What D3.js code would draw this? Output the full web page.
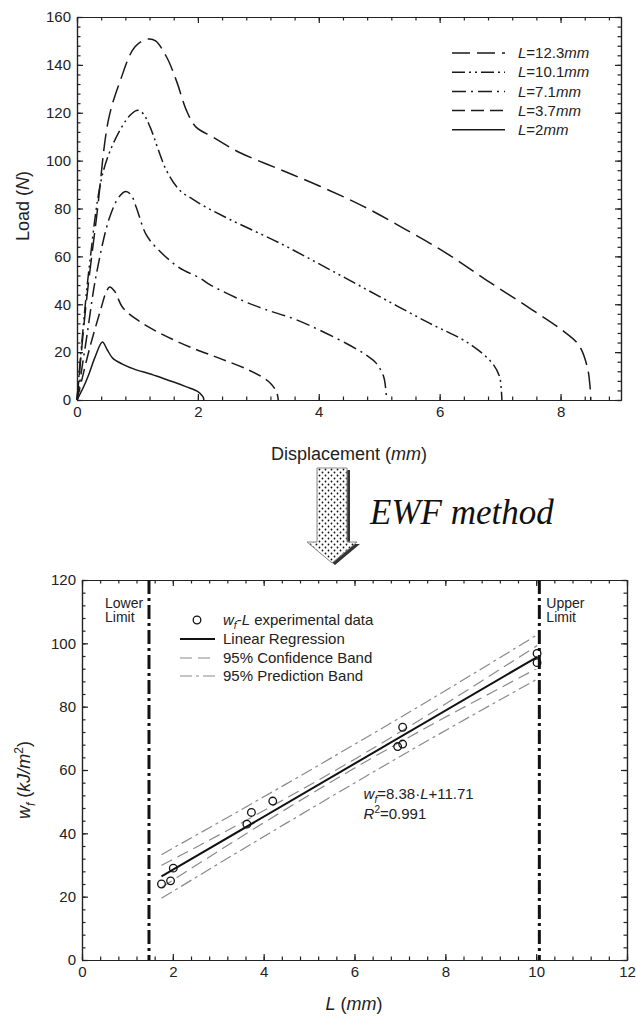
<!DOCTYPE html>
<html>
<head>
<meta charset="utf-8">
<script src="https://cdn.jsdelivr.net/npm/d3@7"></script>
<style>
  body { margin: 0; background: #fff; }
  svg text { font-family: "Liberation Sans", Arial, sans-serif; fill: #222; }
  .ax path, .ax line { stroke: #222; stroke-width: 1.2; }
  .ax text { font-size: 15px; }
</style>
</head>
<body>
<svg id="fig" width="636" height="1019"></svg>
<script>
// ---------- top chart: load vs displacement ----------
const ligaments = ['12.3', '10.1', '7.1', '3.7', '2'];
const load12_3 = [[0,0],[0.15,40],[0.33,77.7],[0.52,117],[0.71,133],[0.96,147.6],[1.18,150.8],[1.3,150],[1.48,143.4],[1.65,133],[1.81,121],[1.97,114],[2.25,109.8],[2.69,103.4],[3.35,96.4],[4.01,89.4],[4.73,81],[5.44,71.2],[6.1,61.5],[6.76,50.3],[7.53,37.7],[8.02,29.3],[8.3,23],[8.44,14],[8.49,5],[8.5,0]];
const load10_1 = [[0,0],[0.2,55],[0.44,96],[0.71,112.7],[0.9,119.5],[1.01,121],[1.1,119.5],[1.21,114],[1.48,95.9],[1.7,87.6],[1.92,83.8],[2.08,81.3],[2.53,75.4],[3.35,65.6],[4.18,54.5],[5.0,43.3],[5.83,32.1],[6.48,23.7],[6.87,15.4],[6.99,9.8],[7.02,4],[7.03,0]];
const load7_1 = [[0,0],[0.15,24.5],[0.32,52.5],[0.54,76.3],[0.7,85],[0.81,87.1],[0.9,85.5],[0.98,80.5],[1.14,69.3],[1.31,63.7],[1.69,55.3],[2.03,51],[2.19,48.3],[2.74,41.5],[3.12,37.8],[3.63,33.5],[4.45,23.7],[4.8,18.5],[4.95,15.4],[5.07,10],[5.11,4],[5.12,0]];
const load3_7 = [[0,0],[0.21,21.7],[0.4,38.5],[0.48,45],[0.54,47.2],[0.62,45.5],[0.76,38.5],[1.03,32.9],[1.42,27.3],[1.91,21.7],[2.35,17.5],[2.8,13],[3.07,9.5],[3.2,7],[3.3,3.5],[3.33,0]];
const load2 = [[0,0],[0.1,5],[0.2,11],[0.3,18],[0.42,24.2],[0.5,21],[0.59,17.5],[0.75,15],[0.98,12.6],[1.2,11],[1.42,9.1],[1.6,7.5],[1.8,5.6],[2.0,3.5],[2.08,1.5],[2.1,0]];
const loadCurves = [load12_3, load10_1, load7_1, load3_7, load2];
const dispTicks = [0, 2, 4, 6, 8];
const loadTicks = [0, 20, 40, 60, 80, 100, 120, 140, 160];

// ---------- bottom chart: w_f vs L ----------
const pointsL = [1.75, 1.95, 2.01, 3.63, 3.73, 4.2, 6.95, 7.06, 7.06, 10.02, 10.02];
const pointsW = [24.0, 25.0, 29.0, 42.9, 46.6, 50.2, 67.4, 73.5, 68.2, 93.9, 96.8];
const fitCoef = [8.38, 11.71];          // slope, intercept from the printed equation
const fitRange = [1.75, 10.02];
const bandL = [1.75, 3, 4.5, 5.9, 7.5, 9, 10.02];
const confHalf = [3.5, 2.5, 1.7, 1.4, 1.8, 2.8, 3.6];
const predHalf = [6.9, 6.5, 6.2, 6.1, 6.2, 6.6, 7.0];
const limitsL = [1.475, 10.07];
const lenTicks = [0, 2, 4, 6, 8, 10, 12];
const wfTicks = [0, 20, 40, 60, 80, 100, 120];

const svg = d3.select('#fig');
const ink = '#1a1a1a';

// Box with inward ticks on all four sides
function frame(g, x, y, xMajor, xMinor, yMajor, yMinor) {
    const [x0, x1] = x.range();
    const [y0, y1] = y.range();
    const add = (axis, tx, ty) => g.append('g').attr('class', 'ax')
        .attr('transform', `translate(${tx},${ty})`)
        .call(axis)
        .attr('font-family', null).attr('font-size', null);
    add(d3.axisBottom(x).tickValues(xMajor).tickSize(-6).tickSizeOuter(0).tickPadding(6).tickFormat(d3.format('d')), 0, y0);
    add(d3.axisBottom(x).tickValues(xMinor).tickSize(-3.5).tickSizeOuter(0).tickFormat(''), 0, y0);
    add(d3.axisTop(x).tickValues(xMajor).tickSize(-6).tickSizeOuter(0).tickFormat(''), 0, y1);
    add(d3.axisTop(x).tickValues(xMinor).tickSize(-3.5).tickSizeOuter(0).tickFormat(''), 0, y1);
    add(d3.axisLeft(y).tickValues(yMajor).tickSize(-6).tickSizeOuter(0).tickPadding(6).tickFormat(d3.format('d')), x0, 0);
    add(d3.axisLeft(y).tickValues(yMinor).tickSize(-3.5).tickSizeOuter(0).tickFormat(''), x0, 0);
    add(d3.axisRight(y).tickValues(yMajor).tickSize(-6).tickSizeOuter(0).tickFormat(''), x1, 0);
    add(d3.axisRight(y).tickValues(yMinor).tickSize(-3.5).tickSizeOuter(0).tickFormat(''), x1, 0);
}

// ===== top chart =====
const xT = d3.scaleLinear().domain([0, 9]).range([77, 621]);
const yT = d3.scaleLinear().domain([0, 160]).range([400, 17]);
const gTop = svg.append('g');
frame(gTop, xT, yT, dispTicks, d3.range(0, 23).map(i => i * 0.4),
      loadTicks, d3.range(0, 41).map(i => i * 4));

const dashes = ['18,7', '13,4,2,4,2,4', '14,5,2,5', '13,6', null];
const lineT = d3.line().x(d => xT(d[0])).y(d => yT(d[1])).curve(d3.curveCatmullRom.alpha(0.5));
gTop.selectAll('path.curve').data(loadCurves).join('path')
    .attr('class', 'curve')
    .attr('d', lineT)
    .attr('fill', 'none')
    .attr('stroke', ink)
    .attr('stroke-width', 1.5)
    .attr('stroke-dasharray', (d, i) => dashes[i]);

// legend
const legT = gTop.append('g');
ligaments.forEach((lab, i) => {
    const yy = 53 + i * 19.2;
    legT.append('line').attr('x1', 452).attr('x2', 505).attr('y1', yy).attr('y2', yy)
        .attr('stroke', ink).attr('stroke-width', 1.5).attr('stroke-dasharray', dashes[i]);
    const t = legT.append('text').attr('x', 518).attr('y', yy).attr('dy', '0.35em').attr('font-size', 15);
    t.append('tspan').attr('font-style', 'italic').text('L');
    t.append('tspan').text('=' + lab);
    t.append('tspan').attr('font-style', 'italic').text('mm');
});

const xlabT = gTop.append('text').attr('x', 349).attr('y', 460).attr('text-anchor', 'middle').attr('font-size', 18);
xlabT.append('tspan').text('Displacement (');
xlabT.append('tspan').attr('font-style', 'italic').text('mm');
xlabT.append('tspan').text(')');
const ylabT = gTop.append('text').attr('transform', 'translate(29,206) rotate(-90)')
    .attr('text-anchor', 'middle').attr('font-size', 18);
ylabT.append('tspan').text('Load (');
ylabT.append('tspan').attr('font-style', 'italic').text('N');
ylabT.append('tspan').text(')');

// ===== arrow + caption =====
const defs = svg.append('defs');
const pat = defs.append('pattern').attr('id', 'dots')
    .attr('width', 6).attr('height', 6).attr('patternUnits', 'userSpaceOnUse');
pat.append('rect').attr('width', 6).attr('height', 6).attr('fill', '#fff');
pat.append('circle').attr('cx', 1.5).attr('cy', 1.5).attr('r', 0.9).attr('fill', '#111');
pat.append('circle').attr('cx', 4.5).attr('cy', 4.5).attr('r', 0.9).attr('fill', '#111');

const arrowShape = [[317, 468], [347, 468], [347, 542], [357, 542], [332, 563], [307, 542], [317, 542]];
const arrowPath = d3.line()(arrowShape) + 'Z';
svg.append('path').attr('d', arrowPath).attr('transform', 'translate(3,2)').attr('fill', '#333');
svg.append('path').attr('d', arrowPath).attr('fill', 'url(#dots)').attr('stroke', '#888').attr('stroke-width', 1);

svg.append('text').attr('x', 370).attr('y', 524)
    .style('font-family', '"Liberation Serif", "Times New Roman", serif')
    .attr('font-style', 'italic').attr('font-size', 35).style('fill', '#111')
    .text('EWF method');

// ===== bottom chart =====
const xB = d3.scaleLinear().domain([0, 12]).range([82, 627]);
const yB = d3.scaleLinear().domain([0, 120]).range([960, 580]);
const gBot = svg.append('g');
frame(gBot, xB, yB, lenTicks, d3.range(0, 31).map(i => i * 0.4),
      wfTicks, d3.range(0, 31).map(i => i * 4));

// limit lines
gBot.selectAll('line.limit').data(limitsL).join('line')
    .attr('class', 'limit')
    .attr('x1', d => xB(d)).attr('x2', d => xB(d))
    .attr('y1', yB(120)).attr('y2', yB(0))
    .attr('stroke', '#111').attr('stroke-width', 3)
    .attr('stroke-dasharray', '14,4,3,4');

const limLab = (x, anchor, a, b) => {
    gBot.append('text').attr('x', x).attr('y', 603).attr('dy', '0.35em').attr('text-anchor', anchor).attr('font-size', 14).text(a);
    gBot.append('text').attr('x', x).attr('y', 617).attr('dy', '0.35em').attr('text-anchor', anchor).attr('font-size', 14).text(b);
};
limLab(105, 'start', 'Lower', 'Limit');
limLab(xB(limitsL[1]) + 7, 'start', 'Upper', 'Limit');

// bands
const lineB = d3.line().x(d => xB(d[0])).y(d => yB(d[1])).curve(d3.curveMonotoneX);
const fitAt = L => fitCoef[0] * L + fitCoef[1];
const bands = [
    { pts: bandL.map((L, i) => [L, fitAt(L) + predHalf[i]]), dash: '12,4,3,4' },
    { pts: bandL.map((L, i) => [L, fitAt(L) - predHalf[i]]), dash: '12,4,3,4' },
    { pts: bandL.map((L, i) => [L, fitAt(L) + confHalf[i]]), dash: '12,6' },
    { pts: bandL.map((L, i) => [L, fitAt(L) - confHalf[i]]), dash: '12,6' }
];
gBot.selectAll('path.band').data(bands).join('path')
    .attr('class', 'band')
    .attr('d', d => lineB(d.pts))
    .attr('fill', 'none').attr('stroke', '#8a8a8a').attr('stroke-width', 1.2)
    .attr('stroke-dasharray', d => d.dash);

// regression line
gBot.append('path').attr('d', lineB(fitRange.map(L => [L, fitAt(L)])))
    .attr('fill', 'none').attr('stroke', '#111').attr('stroke-width', 2);

// data points
gBot.selectAll('circle.pt').data(pointsL).join('circle')
    .attr('class', 'pt')
    .attr('cx', d => xB(d)).attr('cy', (d, i) => yB(pointsW[i]))
    .attr('r', 3.8).attr('fill', 'none').attr('stroke', '#111').attr('stroke-width', 1.3);

// legend
const legB = gBot.append('g');
const rowY = [620, 639, 658, 676];
legB.append('circle').attr('cx', 197).attr('cy', rowY[0]).attr('r', 3.8)
    .attr('fill', 'none').attr('stroke', '#111').attr('stroke-width', 1.3);
const lt0 = legB.append('text').attr('x', 223).attr('y', rowY[0]).attr('dy', '0.35em').attr('font-size', 15);
lt0.append('tspan').attr('font-style', 'italic').text('w');
lt0.append('tspan').attr('font-style', 'italic').attr('font-size', 10).attr('dy', 4).text('f');
lt0.append('tspan').attr('dy', -4).text('-');
lt0.append('tspan').attr('font-style', 'italic').text('L');
lt0.append('tspan').text(' experimental data');
const legLines = [
    { y: rowY[1], stroke: '#111', w: 2, dash: null, label: 'Linear Regression' },
    { y: rowY[2], stroke: '#8a8a8a', w: 1.2, dash: '12,6', label: '95% Confidence Band' },
    { y: rowY[3], stroke: '#8a8a8a', w: 1.2, dash: '12,4,3,4', label: '95% Prediction Band' }
];
legLines.forEach(r => {
    legB.append('line').attr('x1', 180).attr('x2', 215).attr('y1', r.y).attr('y2', r.y)
        .attr('stroke', r.stroke).attr('stroke-width', r.w).attr('stroke-dasharray', r.dash);
    legB.append('text').attr('x', 223).attr('y', r.y).attr('dy', '0.35em').attr('font-size', 15).text(r.label);
});

// equation
const eq = gBot.append('text').attr('x', xB(6.2)).attr('y', yB(51)).attr('font-size', 15);
eq.append('tspan').attr('font-style', 'italic').text('w');
eq.append('tspan').attr('font-style', 'italic').attr('font-size', 10).attr('dy', 4).text('f');
eq.append('tspan').attr('dy', -4).text('=8.38\u00b7');
eq.append('tspan').attr('font-style', 'italic').text('L');
eq.append('tspan').text('+11.71');
const r2 = gBot.append('text').attr('x', xB(6.2)).attr('y', yB(51) + 20).attr('font-size', 15);
r2.append('tspan').attr('font-style', 'italic').text('R');
r2.append('tspan').attr('font-size', 10).attr('dy', -6).text('2');
r2.append('tspan').attr('dy', 6).text('=0.991');

// axis titles
const xlabB = gBot.append('text').attr('x', 354).attr('y', 1010).attr('text-anchor', 'middle').attr('font-size', 18);
xlabB.append('tspan').attr('font-style', 'italic').text('L');
xlabB.append('tspan').text(' (');
xlabB.append('tspan').attr('font-style', 'italic').text('mm');
xlabB.append('tspan').text(')');
const ylabB = gBot.append('text').attr('transform', 'translate(30,780) rotate(-90)')
    .attr('text-anchor', 'middle').attr('font-size', 18);
ylabB.append('tspan').attr('font-style', 'italic').text('w');
ylabB.append('tspan').attr('font-style', 'italic').attr('font-size', 12).attr('dy', 5).text('f');
ylabB.append('tspan').attr('dy', -5).text(' (');
ylabB.append('tspan').attr('font-style', 'italic').text('kJ/m');
ylabB.append('tspan').attr('font-size', 12).attr('dy', -7).text('2');
ylabB.append('tspan').attr('dy', 7).text(')');
</script>
</body>
</html>
